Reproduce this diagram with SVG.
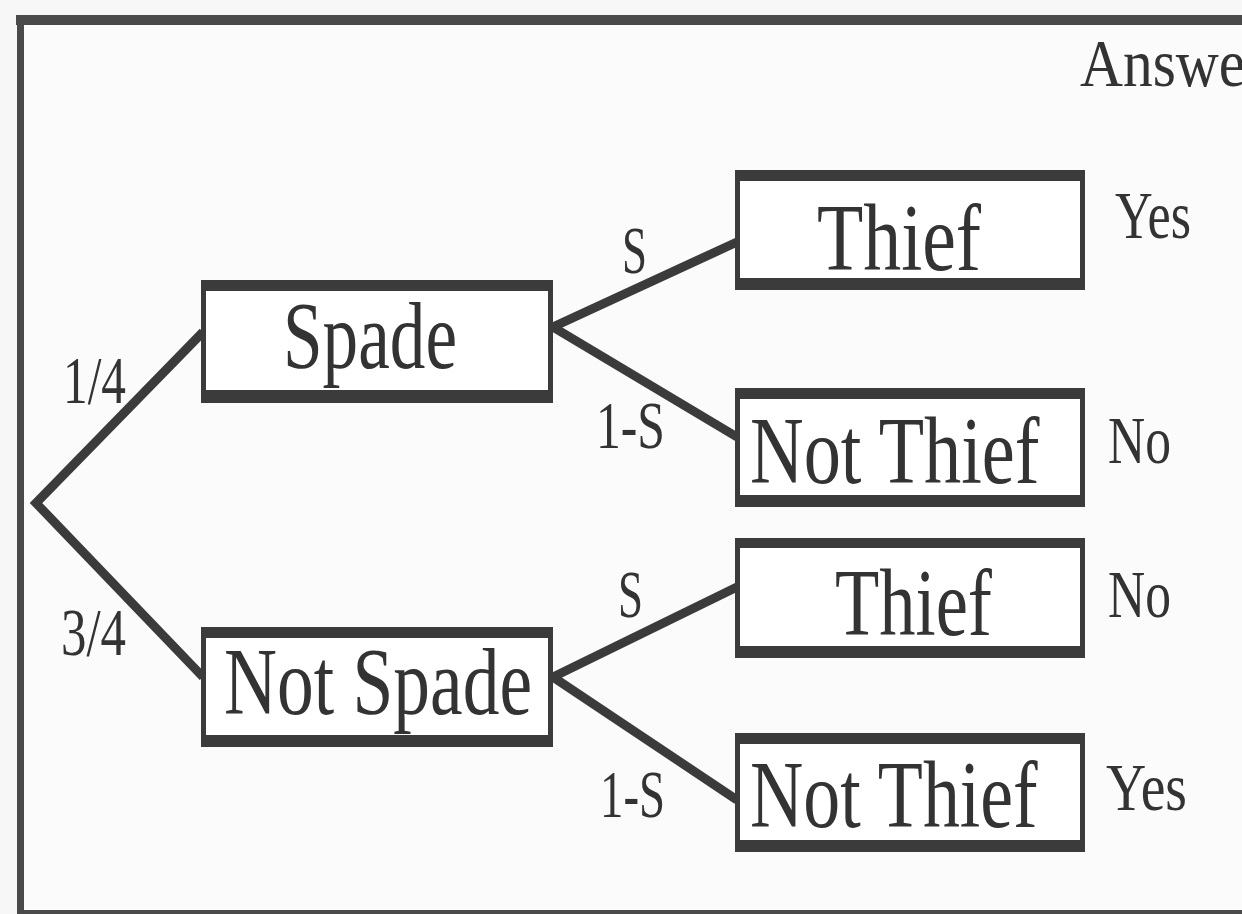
<svg xmlns="http://www.w3.org/2000/svg" width="1242" height="914" viewBox="0 0 1242 914">
<style>
.bo{fill:#3b3b3b}
.fr{fill:#4a4a4a}
.bi{fill:#ffffff}
.t{font-family:"Liberation Serif","Times New Roman",serif;fill:#333333}
.big{font-size:96px}
.sm{font-size:68px}
.con{fill:none;stroke:#3b3b3b;stroke-width:9;stroke-linejoin:miter}
</style>
<rect x="0" y="0" width="1242" height="914" fill="#f7f7f7"/>
<g id="frame">
<rect x="16" y="15" width="1226" height="10" class="fr"/>
<rect x="17" y="15" width="7" height="899" class="fr"/>
<rect x="17" y="910" width="1225" height="4" class="fr"/>
<rect x="24" y="25" width="1218" height="885" fill="#fbfbfb"/>
</g>
<text id="answer" class="t sm" x="1080" y="86" textLength="185" lengthAdjust="spacingAndGlyphs">Answer</text>
<g id="connectors">
<polyline class="con" points="203,332 36,503 203,677"/>
<polyline class="con" points="737,242 553,327 737,437"/>
<polyline class="con" points="737,587 553,677 737,800"/>
<text class="t sm" x="63" y="403" textLength="63" lengthAdjust="spacingAndGlyphs">1/4</text>
<text class="t sm" x="61" y="655" textLength="65" lengthAdjust="spacingAndGlyphs">3/4</text>
<text class="t sm" x="622" y="273" textLength="25" lengthAdjust="spacingAndGlyphs">S</text>
<text class="t sm" x="596" y="448" textLength="69" lengthAdjust="spacingAndGlyphs">1-S</text>
<text class="t sm" x="618" y="617" textLength="25" lengthAdjust="spacingAndGlyphs">S</text>
<text class="t sm" x="600" y="817" textLength="65" lengthAdjust="spacingAndGlyphs">1-S</text>
</g>
<g id="spade">
<rect class="bo" x="201" y="280" width="352" height="123"/>
<rect class="bi" x="206" y="291" width="342" height="99"/>
<text class="t big" x="283" y="368" textLength="174" lengthAdjust="spacingAndGlyphs">Spade</text>
</g>
<g id="not-spade">
<rect class="bo" x="201" y="627" width="352" height="120"/>
<rect class="bi" x="206" y="638" width="342" height="97"/>
<text class="t big" x="224" y="714" textLength="308" lengthAdjust="spacingAndGlyphs">Not Spade</text>
</g>
<g id="thief-1">
<rect class="bo" x="735" y="170" width="350" height="120"/>
<rect class="bi" x="740" y="181" width="340" height="97"/>
<text class="t big" x="817" y="270" textLength="164" lengthAdjust="spacingAndGlyphs">Thief</text>
</g>
<g id="not-thief-1">
<rect class="bo" x="735" y="388" width="350" height="119"/>
<rect class="bi" x="740" y="399" width="340" height="96"/>
<text class="t big" transform="translate(750,483) scale(0.774,1)" x="0" y="0">Not Thief</text>
</g>
<g id="thief-2">
<rect class="bo" x="735" y="538" width="350" height="120"/>
<rect class="bi" x="740" y="548" width="340" height="98"/>
<text class="t big" x="835" y="635" textLength="157" lengthAdjust="spacingAndGlyphs">Thief</text>
</g>
<g id="not-thief-2">
<rect class="bo" x="735" y="733" width="350" height="119"/>
<rect class="bi" x="740" y="744" width="340" height="96"/>
<text class="t big" transform="translate(750,827) scale(0.769,1)" x="0" y="0">Not Thief</text>
</g>
<g id="answers">
<text class="t sm" x="1115" y="238" textLength="76" lengthAdjust="spacingAndGlyphs">Yes</text>
<text class="t sm" x="1108" y="463" textLength="63" lengthAdjust="spacingAndGlyphs">No</text>
<text class="t sm" x="1108" y="617" textLength="63" lengthAdjust="spacingAndGlyphs">No</text>
<text class="t sm" x="1106" y="810" textLength="81" lengthAdjust="spacingAndGlyphs">Yes</text>
</g>
</svg>
